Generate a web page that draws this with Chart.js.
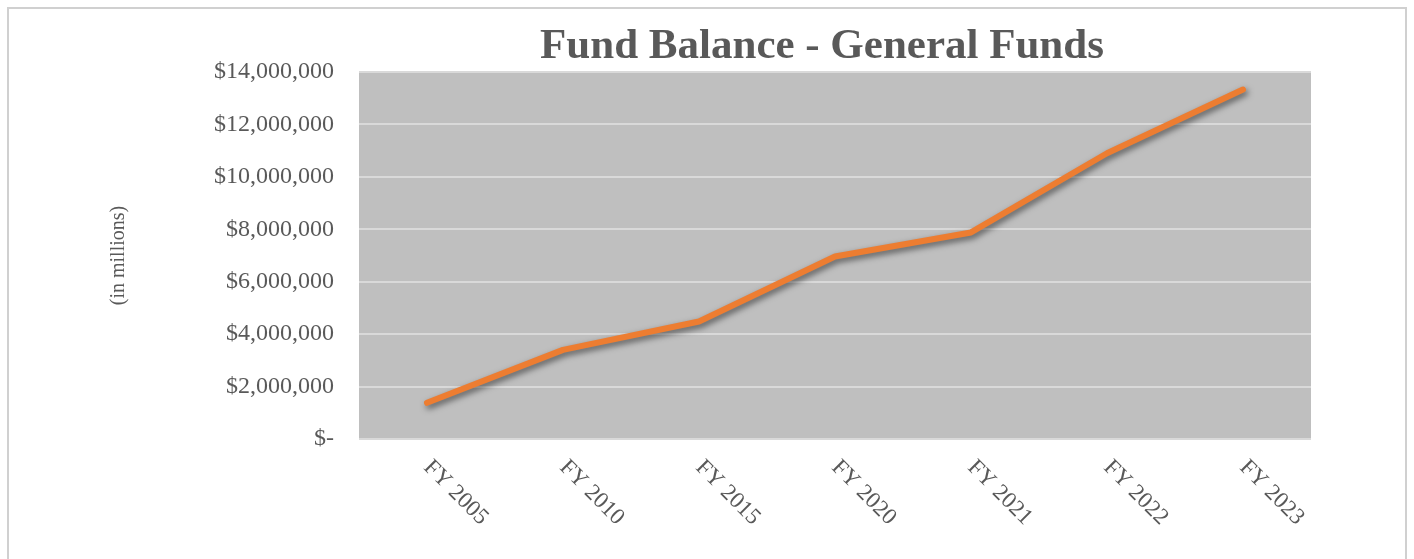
<!DOCTYPE html>
<html>
<head>
<meta charset="utf-8">
<script src="https://cdn.jsdelivr.net/npm/chart.js@4.4.0/dist/chart.umd.min.js"></script>
<style>
  body { margin: 0; background: #fff; }
  #frame {
    position: absolute; left: 7px; top: 7px; width: 1400px; height: 600px;
    border: 2px solid #d0d0d0; box-sizing: border-box;
  }
  #wrap { position: absolute; left: 0; top: 0; width: 1414px; height: 559px; }
</style>
</head>
<body>
<div id="frame"></div>
<div id="wrap"><canvas id="myChart" width="1414" height="559"></canvas></div>
<script>
const years = ["FY 2005", "FY 2010", "FY 2015", "FY 2020", "FY 2021", "FY 2022", "FY 2023"];
const balances = [1380000, 3400000, 4480000, 6960000, 7880000, 10900000, 13330000];
const yTicks = [0, 2000000, 4000000, 6000000, 8000000, 10000000, 12000000, 14000000];

const chartTitle = "Fund Balance - General Funds";
const serif = "'Liberation Serif', 'Times New Roman', serif";
const textColor = "#595959";

function money(v) {
  if (v === 0) return "$-";
  return "$" + v.toLocaleString("en-US");
}

const plotBackground = {
  id: "plotBackground",
  beforeDraw(chart) {
    const { ctx, chartArea } = chart;
    ctx.save();
    ctx.fillStyle = "#bfbfbf";
    ctx.fillRect(chartArea.left, chartArea.top, chartArea.right - chartArea.left, chartArea.bottom - chartArea.top);
    ctx.restore();
  },
  beforeDatasetDraw(chart) {
    const ctx = chart.ctx;
    ctx.save();
    ctx.shadowColor = "rgba(0,0,0,0.55)";
    ctx.shadowBlur = 6;
    ctx.shadowOffsetX = 2;
    ctx.shadowOffsetY = 3;
  },
  afterDatasetDraw(chart) {
    chart.ctx.restore();
  },
  afterDraw(chart) {
    const { ctx, chartArea } = chart;
    const xScale = chart.scales.x;
    ctx.save();
    ctx.fillStyle = textColor;
    ctx.font = "23px " + serif;
    ctx.textAlign = "left";
    ctx.textBaseline = "middle";
    years.forEach((label, i) => {
      const x = xScale.getPixelForTick(i);
      ctx.save();
      ctx.translate(x, chartArea.bottom + 25);
      ctx.rotate(Math.PI / 4);
      ctx.fillText(label, 0, 0);
      ctx.restore();
    });
    ctx.font = "bold 43px " + serif;
    ctx.textAlign = "center";
    ctx.textBaseline = "alphabetic";
    ctx.fillText(chartTitle, 822, 58);
    ctx.restore();
  },
};

const chart = new Chart("myChart", {
  type: "line",
  data: {
    labels: years,
    datasets: [
      {
        data: balances,
        borderColor: "#ed7d31",
        borderWidth: 6,
        borderCapStyle: "round",
        borderJoinStyle: "round",
        pointRadius: 0,
        tension: 0,
      },
    ],
  },
  options: {
    responsive: false,
    animation: false,
    layout: {
      padding: { left: 105, top: 72, right: 103, bottom: 120 },
    },
    plugins: {
      legend: { display: false },
      title: { display: false },
      tooltip: { enabled: false },
    },
    scales: {
      x: {
        offset: true,
        grid: { display: false },
        border: { display: false },
        ticks: { display: false },
        afterFit(s) { s.height = 0; },
      },
      y: {
        min: 0,
        max: 14000000,
        afterBuildTicks(s) { s.ticks = yTicks.map((v) => ({ value: v })); },
        afterFit(s) { s.width = 254; },
        grid: { color: "#d9d9d9", lineWidth: 2, drawTicks: false },
        border: { display: false },
        ticks: {
          padding: 25,
          color: textColor,
          font: { family: serif, size: 24 },
          callback: (v) => money(v),
        },
        title: {
          display: true,
          text: "(in millions)",
          color: textColor,
          font: { family: serif, size: 20 },
          padding: 2,
        },
      },
    },
  },
  plugins: [plotBackground],
});
</script>
</body>
</html>
